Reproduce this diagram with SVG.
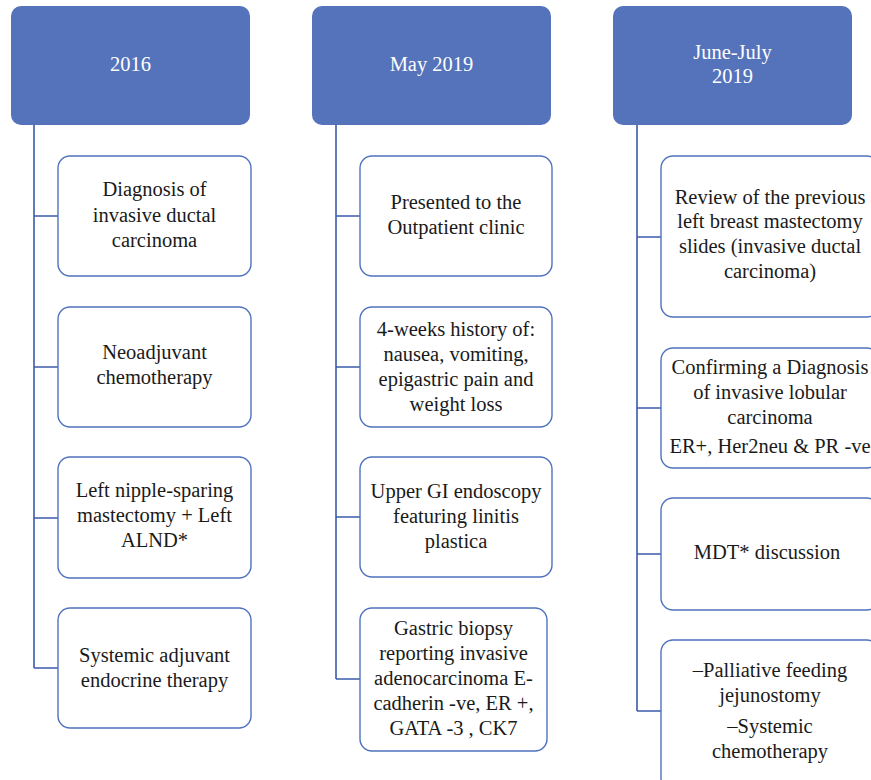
<svg xmlns="http://www.w3.org/2000/svg" width="871" height="780" viewBox="0 0 871 780">
<style>
.hdr{fill:#5473bb;}
.box{fill:#ffffff;stroke:#4f72be;stroke-width:1.4;}
.ln{stroke:#3b5ba9;stroke-width:1.6;fill:none;}
text{font-size:20.5px;text-anchor:middle;fill:#1a1a1a;}
.ht{fill:#ffffff;}
</style>
<rect width="871" height="780" fill="#ffffff"/>
<g id="connectors">
<path class="ln" d="M34,125 V668 M34,216 H58 M34,367 H58 M34,518 H58 M34,668 H58"/>
<path class="ln" d="M336,125 V679 M336,216 H360 M336,367 H360 M336,517 H360 M336,679 H360"/>
<path class="ln" d="M637,125 V711 M637,237 H661 M637,408 H661 M637,554 H661 M637,711 H661"/>
</g>
<g font-family="'Liberation Serif', 'DejaVu Serif', serif">
<g id="h2016"><rect class="hdr" x="11" y="6" width="239" height="119" rx="10"/><text class="ht" x="130.5" y="71">2016</text></g>
<g id="hMay2019"><rect class="hdr" x="312" y="6" width="239" height="119" rx="10"/><text class="ht" x="431.5" y="71">May 2019</text></g>
<g id="hJune2019"><rect class="hdr" x="613" y="6" width="239" height="119" rx="10"/><text class="ht" x="732.5" y="59">June-July</text><text class="ht" x="732.5" y="83">2019</text></g>

<g id="c1b1"><rect class="box" x="58" y="156" width="193" height="120" rx="12"/><text x="154.5" y="196">Diagnosis of</text><text x="154.5" y="222">invasive ductal</text><text x="154.5" y="247">carcinoma</text></g>
<g id="c1b2"><rect class="box" x="58" y="307" width="193" height="120" rx="12"/><text x="154.5" y="359">Neoadjuvant</text><text x="154.5" y="384">chemotherapy</text></g>
<g id="c1b3"><rect class="box" x="58" y="457" width="193" height="121" rx="12"/><text x="154.5" y="497">Left nipple-sparing</text><text x="154.5" y="522">mastectomy + Left</text><text x="154.5" y="547">ALND*</text></g>
<g id="c1b4"><rect class="box" x="58" y="608" width="193" height="120" rx="12"/><text x="154.5" y="662">Systemic adjuvant</text><text x="154.5" y="687">endocrine therapy</text></g>

<g id="c2b1"><rect class="box" x="360" y="156" width="192" height="120" rx="12"/><text x="456" y="209">Presented to the</text><text x="456" y="234">Outpatient clinic</text></g>
<g id="c2b2"><rect class="box" x="360" y="307" width="192" height="120" rx="12"/><text x="456" y="336">4-weeks history of:</text><text x="456" y="361">nausea, vomiting,</text><text x="456" y="386">epigastric pain and</text><text x="456" y="411">weight loss</text></g>
<g id="c2b3"><rect class="box" x="360" y="457" width="192" height="120" rx="12"/><text x="456" y="498">Upper GI endoscopy</text><text x="456" y="523">featuring linitis</text><text x="456" y="548">plastica</text></g>
<g id="c2b4"><rect class="box" x="360" y="608" width="187" height="143" rx="12"/><text x="453.5" y="635">Gastric biopsy</text><text x="453.5" y="660">reporting invasive</text><text x="453.5" y="685">adenocarcinoma E-</text><text x="453.5" y="710">cadherin -ve, ER +,</text><text x="453.5" y="735">GATA -3 , CK7</text></g>

<g id="c3b1"><rect class="box" x="661" y="156" width="218" height="161" rx="12"/><text x="770" y="204">Review of the previous</text><text x="770" y="228">left breast mastectomy</text><text x="770" y="253">slides (invasive ductal</text><text x="770" y="278">carcinoma)</text></g>
<g id="c3b2"><rect class="box" x="661" y="348" width="218" height="120" rx="12"/><text x="770" y="374">Confirming a Diagnosis</text><text x="770" y="399">of invasive lobular</text><text x="770" y="424">carcinoma</text><text x="770" y="453">ER+, Her2neu &amp; PR -ve</text></g>
<g id="c3b3"><rect class="box" x="661" y="498" width="218" height="112" rx="12"/><text x="767" y="559">MDT* discussion</text></g>
<g id="c3b4"><rect class="box" x="661" y="640" width="218" height="150" rx="12"/><text x="770" y="677">–Palliative feeding</text><text x="770" y="702">jejunostomy</text><text x="770" y="733">–Systemic</text><text x="770" y="758">chemotherapy</text></g>
</g>
</svg>
